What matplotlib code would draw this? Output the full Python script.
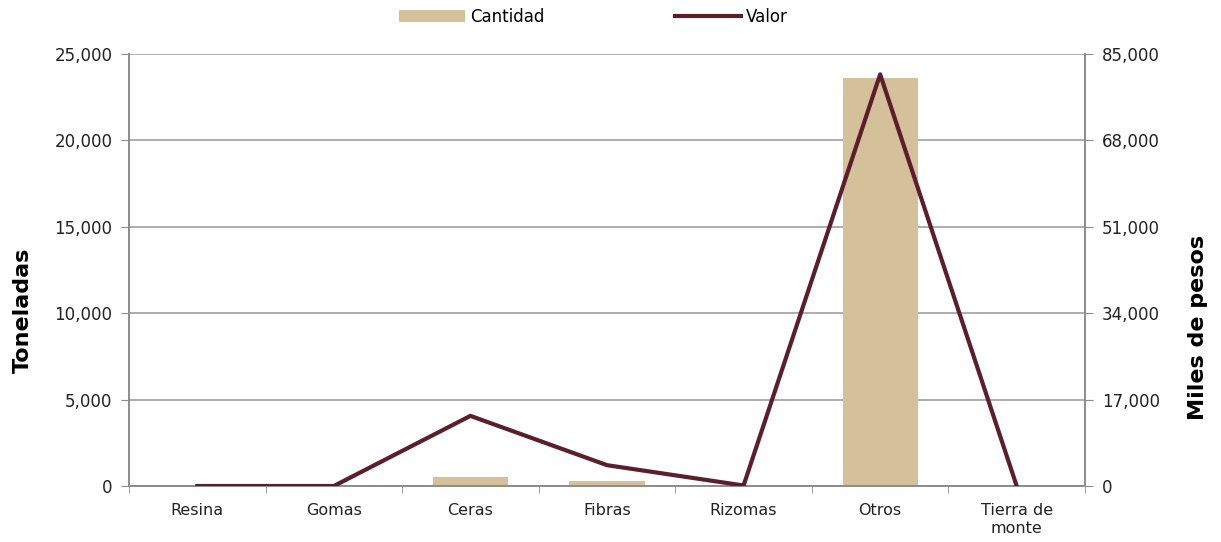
import numpy as np
import matplotlib.pyplot as plt
from matplotlib.ticker import FuncFormatter, FixedLocator

plt.rcParams['font.family'] = ['DejaVu Sans']

categorias = ['Resina', 'Gomas', 'Ceras', 'Fibras', 'Rizomas', 'Otros', 'Tierra de\nmonte']
cantidad = [0, 0, 500, 290, 0, 23600, 0]
valor = [0, 0, 13800, 4100, 100, 81000, 0]

color_barra = '#d4c09a'
color_linea = '#5a1e2c'
color_gris = '#8c8c8c'

fig = plt.figure(figsize=(12.21, 5.42), dpi=100)
ax = fig.add_axes([129 / 1221, 1 - 486 / 542, 956 / 1221, 432 / 542])
ax2 = ax.twinx()

x = np.arange(len(categorias))
ax.bar(x, cantidad, width=0.55, color=color_barra, label='Cantidad', zorder=2)
ax2.plot(x, valor, color=color_linea, linewidth=3, label='Valor', zorder=3)

ax.set_xlim(-0.5, len(categorias) - 0.5)
ax.set_ylim(0, 25000)
ax2.set_ylim(0, 85000)
ax.set_yticks(np.arange(0, 25001, 5000))
ax2.set_yticks(np.arange(0, 85001, 17000))

fmt = FuncFormatter(lambda v, p: f'{int(v):,}')
ax.yaxis.set_major_formatter(fmt)
ax2.yaxis.set_major_formatter(fmt)

ax.set_xticks(x)
ax.set_xticklabels(categorias, fontsize=11.5, color='#222222', linespacing=1.25)
ax.tick_params(axis='x', which='major', length=0, pad=12)
ax.xaxis.set_minor_locator(FixedLocator(np.arange(-0.5, len(categorias), 1.0)))
ax.tick_params(axis='x', which='minor', length=5, color=color_gris, direction='out')

ax.tick_params(axis='y', length=6, color=color_gris, labelsize=12, labelcolor='#222222', pad=6)
ax2.tick_params(axis='y', length=6, color=color_gris, labelsize=12, labelcolor='#222222', pad=6)

ax.grid(axis='y', color='#a0a0a0', linewidth=1.2, zorder=0)
ax.set_axisbelow(True)

for a in (ax, ax2):
    a.spines['top'].set_visible(False)
    for s in ('left', 'right', 'bottom'):
        a.spines[s].set_color(color_gris)
        a.spines[s].set_linewidth(1.2)

ax.set_ylabel('Toneladas', fontsize=16, fontweight='bold')
ax2.set_ylabel('Miles de pesos', fontsize=16, fontweight='bold', rotation=90)
ax.yaxis.set_label_coords(-0.101, 0.407)
ax2.yaxis.set_label_coords(1.108, 0.368)

h1, l1 = ax.get_legend_handles_labels()
h2, l2 = ax2.get_legend_handles_labels()
fig.legend(h1 + h2, l1 + l2, loc='center', bbox_to_anchor=(0.486, 1 - 17 / 542), ncol=2,
           frameon=False, fontsize=12, columnspacing=7.8, handlelength=4, handletextpad=0.3)

fig.savefig('out.png', dpi=100)
